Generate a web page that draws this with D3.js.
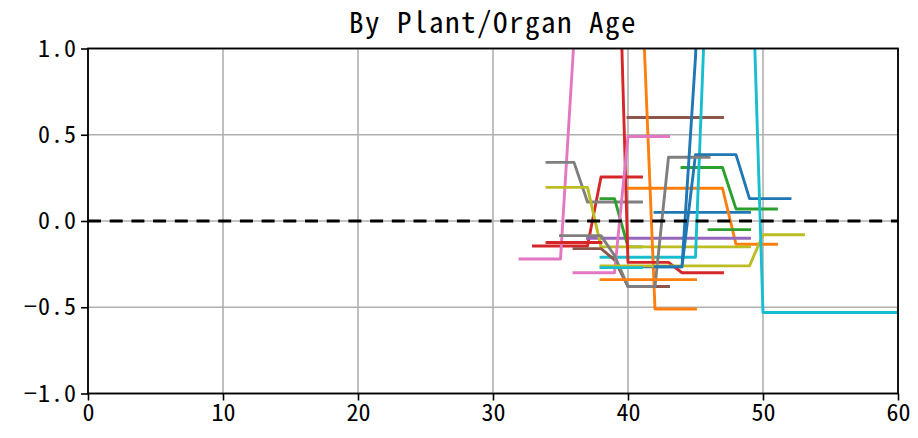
<!DOCTYPE html>
<html>
<head>
<meta charset="utf-8">
<script src="https://cdn.jsdelivr.net/npm/d3@7"></script>
<style>
  html, body { margin: 0; padding: 0; background: #fff; }
  svg { display: block; }
  text { font-family: "Noto Sans Mono CJK SC", "Noto Sans CJK SC", "DejaVu Sans Mono", monospace; fill: #000; }
</style>
</head>
<body>
<svg id="chart" width="918" height="438"></svg>
<script>
// Relative change by plant/organ age, one polyline per sample.
const chartTitle = "By Plant/Organ Age";
const xTicks = [0, 10, 20, 30, 40, 50, 60];
const yTicks = [-1.0, -0.5, 0.0, 0.5, 1.0];

// tab10 colours
const palette = {
  blue: "#1f77b4", orange: "#ff7f0e", green: "#2ca02c", red: "#d62728",
  purple: "#9467bd", brown: "#8c564b", pink: "#e377c2", gray: "#7f7f7f",
  olive: "#bcbd22", cyan: "#17becf"
};

// Each series: colour, first age, and one value per consecutive age.
const seriesColor = [
  "blue", "orange", "green", "red", "purple", "brown", "pink", "gray",
  "green", "olive", "cyan", "blue", "orange", "green", "red", "brown",
  "pink", "gray", "olive", "cyan", "blue", "orange", "red", "cyan"
];
const seriesStart = [
  42, 40, 44, 33, 37, 40, 32, 34,
  38, 34, 38, 41, 41, 46, 39, 36,
  36, 35, 38, 38, 42, 38, 34, 49
];
const seriesValues = [
  [0.05, 0.05, 0.05, 0.05, 0.05, 0.05, 0.05, 0.05],
  [0.19, 0.19, 0.19, 0.19, 0.19, 0.19, 0.19, 0.19, -0.135, -0.135, -0.135, -0.135],
  [0.31, 0.31, 0.31, 0.31, 0.07, 0.07, 0.07, 0.07],
  [-0.145, -0.145, -0.145, -0.145, -0.145, 0.255, 0.255, 0.255, 0.255],
  [-0.10, -0.10, -0.10, -0.10, -0.10, -0.10, -0.10, -0.10, -0.10, -0.10, -0.10, -0.10, -0.10],
  [0.60, 0.60, 0.60, 0.60, 0.60, 0.60, 0.60, 0.60],
  [-0.22, -0.22, -0.22, -0.22, 1.05],
  [0.34, 0.34, 0.34, 0.11, 0.11, 0.11, 0.11, 0.11],
  [0.13, 0.13, -0.15, -0.15],
  [0.195, 0.195, 0.195, 0.195, -0.15, -0.15, -0.15, -0.15, -0.15, -0.15, -0.15, -0.15, -0.15, -0.15, -0.15, -0.15],
  [-0.21, -0.21, -0.21, -0.21, -0.21, -0.21, -0.21, -0.21, 1.82],
  [-0.265, -0.265, -0.265, -0.265, 0.385, 0.385, 0.385, 0.385, 0.13, 0.13, 0.13, 0.13],
  [1.41, -0.51, -0.51, -0.51, -0.51],
  [-0.05, -0.05, -0.05, -0.05],
  [2.5, -0.24, -0.24, -0.24, -0.24, -0.30, -0.30, -0.30, -0.30],
  [-0.16, -0.16, -0.16, -0.225, -0.38, -0.38, -0.38, -0.38],
  [-0.30, -0.30, -0.30, -0.30, 0.49, 0.49, 0.49, 0.49],
  [-0.085, -0.085, -0.085, -0.085, -0.20, -0.38, -0.38, -0.38, 0.37, 0.37, 0.37, 0.37],
  [-0.26, -0.26, -0.26, -0.26, -0.26, -0.26, -0.26, -0.26, -0.26, -0.26, -0.26, -0.26, -0.08, -0.08, -0.08, -0.08],
  [-0.27, -0.27, -0.27, -0.27],
  [-0.265, -0.265, -0.265, 0.95, 3.0],
  [-0.34, -0.34, -0.34, -0.34, -0.34, -0.34, -0.34, -0.34],
  [-0.125, -0.125, -0.125, -0.125, -0.125],
  [2.0, -0.53, -0.53, -0.53, -0.53, -0.53, -0.53, -0.53, -0.53, -0.53, -0.53, -0.53]
];

const svg = d3.select("#chart");
const plot = { left: 88, right: 898, top: 48.5, bottom: 393.5 };

const x = d3.scaleLinear().domain([0, 60]).range([plot.left, plot.right]);
const y = d3.scaleLinear().domain([-1, 1]).range([plot.bottom, plot.top]);

svg.append("defs").append("clipPath").attr("id", "plot-clip")
  .append("rect")
  .attr("x", plot.left).attr("y", plot.top)
  .attr("width", plot.right - plot.left).attr("height", plot.bottom - plot.top);

// grid
const grid = svg.append("g").attr("stroke", "#b0b0b0").attr("stroke-width", 1.6);
grid.selectAll("line.vx").data(xTicks).join("line")
  .attr("x1", d => x(d)).attr("x2", d => x(d))
  .attr("y1", plot.top).attr("y2", plot.bottom);
grid.selectAll("line.hy").data(yTicks).join("line")
  .attr("y1", d => y(d)).attr("y2", d => y(d))
  .attr("x1", plot.left).attr("x2", plot.right);

// series
const series = seriesValues.map((vals, i) => ({
  color: palette[seriesColor[i]],
  points: vals.map((v, k) => [seriesStart[i] + k, v])
}));

const line = d3.line().x(d => x(d[0])).y(d => y(d[1]));

svg.append("g").attr("clip-path", "url(#plot-clip)")
  .selectAll("path").data(series).join("path")
  .attr("d", d => line(d.points))
  .attr("fill", "none")
  .attr("stroke", d => d.color)
  .attr("stroke-width", 2.9)
  .attr("stroke-linejoin", "round")
  .attr("stroke-linecap", "square");

// zero reference
svg.append("line")
  .attr("x1", plot.left).attr("x2", plot.right)
  .attr("y1", y(0)).attr("y2", y(0))
  .attr("stroke", "#000").attr("stroke-width", 3.2)
  .attr("stroke-dasharray", "13 8.7");

// axes
const fmtY = d => d3.format(".1f")(d).replace("-", "\u2212");
const xAxis = d3.axisBottom(x).tickValues(xTicks).tickSize(7).tickPadding(3).tickFormat(d3.format("d"));
const yAxis = d3.axisLeft(y).tickValues(yTicks).tickSize(7).tickPadding(4).tickFormat(fmtY);

const gx = svg.append("g").attr("transform", `translate(0,${plot.bottom})`).call(xAxis);
const gy = svg.append("g").attr("transform", `translate(${plot.left},0)`).call(yAxis);
[gx, gy].forEach(g => {
  g.select(".domain").remove();
  g.selectAll(".tick line").attr("stroke", "#000").attr("stroke-width", 1.6);
  g.selectAll(".tick text").style("font-size", "24px");
});
gy.selectAll(".tick text").attr("letter-spacing", "1px");

// frame
svg.append("rect")
  .attr("x", plot.left).attr("y", plot.top)
  .attr("width", plot.right - plot.left).attr("height", plot.bottom - plot.top)
  .attr("fill", "none").attr("stroke", "#000").attr("stroke-width", 1.8);

svg.append("text")
  .attr("x", (plot.left + plot.right) / 2).attr("y", 33)
  .attr("text-anchor", "middle")
  .attr("letter-spacing", "1.5px")
  .style("font-size", "29px")
  .text(chartTitle);
</script>
</body>
</html>
